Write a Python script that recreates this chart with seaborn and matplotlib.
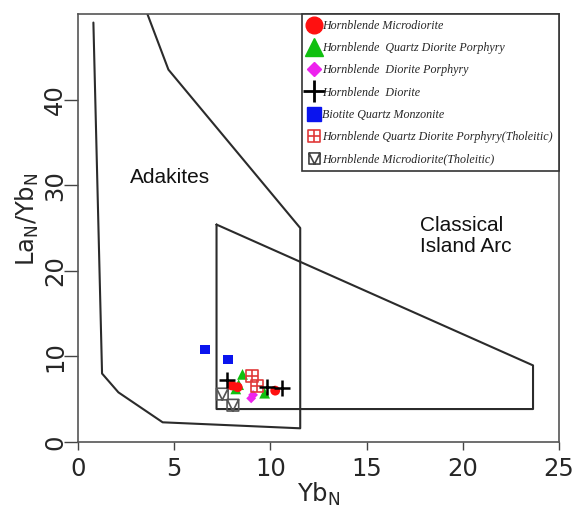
import matplotlib
matplotlib.use("Agg")
import matplotlib.pyplot as plt
from matplotlib.path import Path
from matplotlib.lines import Line2D
import seaborn as sns
import pandas as pd

# ---------------- data ----------------
adakite_x = [0.8, 1.25, 2.1, 4.4, 11.55, 11.55, 4.7, 3.27]
adakite_y = [49.0, 8.0, 5.8, 2.3, 1.6, 25.0, 43.5, 52.0]

arc_x = [7.2, 23.65, 23.65, 7.2, 7.2]
arc_y = [25.4, 8.95, 3.85, 3.85, 25.4]

hm_x = [8.0, 8.3, 10.25]
hm_y = [6.6, 6.4, 6.0]
hqdp_x = [8.55, 8.35, 9.7, 8.2]
hqdp_y = [7.9, 6.7, 5.7, 6.2]
hdp_x = [9.0, 9.1]
hdp_y = [5.1, 5.5]
hd_x = [7.75, 9.8, 10.6]
hd_y = [7.2, 6.4, 6.3]
bqm_x = [6.6, 7.8]
bqm_y = [10.8, 9.6]
hqdpt_x = [9.05, 9.3]
hqdpt_y = [7.7, 6.55]
hmt_x = [7.5, 8.05]
hmt_y = [5.6, 4.3]

labels = [
    "Hornblende Microdiorite",
    "Hornblende  Quartz Diorite Porphyry",
    "Hornblende  Diorite Porphyry",
    "Hornblende  Diorite",
    "Biotite Quartz Monzonite",
    "Hornblende Quartz Diorite Porphyry(Tholeitic)",
    "Hornblende Microdiorite(Tholeitic)",
]
x_ticks = [0, 5, 10, 15, 20, 25]
y_ticks = [0, 10, 20, 30, 40]

# ---------------- markers ----------------
M, L, C = Path.MOVETO, Path.LINETO, Path.CLOSEPOLY
sq_plus = Path([(-1, -1), (1, -1), (1, 1), (-1, 1), (-1, -1),
                (-1, 0), (1, 0), (0, -1), (0, 1)],
               [M, L, L, L, C, M, L, M, L])
sq_v = Path([(-1, -1), (1, -1), (1, 1), (-1, 1), (-1, -1),
             (-1, 1), (0, -1), (1, 1)],
            [M, L, L, L, C, M, L, L])

# ---------------- figure ----------------
sns.set_theme(style="white")
plt.rcParams["font.family"] = ["DejaVu Sans"]
plt.rcParams["mathtext.default"] = "regular"

fig = plt.figure(figsize=(5.73, 5.08), dpi=100)
ax = fig.add_axes([78 / 573, 66 / 508, 481 / 573, 428 / 508])

line_col = "#2b2b2b"
sns.lineplot(x=adakite_x, y=adakite_y, sort=False, estimator=None,
             color=line_col, lw=1.5, ax=ax)
sns.lineplot(x=arc_x, y=arc_y, sort=False, estimator=None,
             color=line_col, lw=1.5, ax=ax)

sns.scatterplot(x=hqdp_x, y=hqdp_y, marker="^", color="#10c010", s=60,
                edgecolor="none", ax=ax, zorder=3)
sns.scatterplot(x=hm_x, y=hm_y, marker="o", color="#ff1010", s=50,
                edgecolor="none", ax=ax, zorder=4)
sns.scatterplot(x=hdp_x, y=hdp_y, marker="D", color="#ee22ee", s=25,
                edgecolor="none", ax=ax, zorder=3)
sns.scatterplot(x=bqm_x, y=bqm_y, marker="s", color="#0a14ee", s=45,
                edgecolor="none", ax=ax, zorder=3)
sns.scatterplot(x=hqdpt_x, y=hqdpt_y, marker=sq_plus, facecolor="none",
                edgecolor="#e03a3a", linewidth=1.2, s=70, ax=ax, zorder=3)
sns.scatterplot(x=hmt_x, y=hmt_y, marker=sq_v, facecolor="none",
                edgecolor="#555555", linewidth=1.2, s=70, ax=ax, zorder=3)
sns.scatterplot(x=hd_x, y=hd_y, marker="+", color="black", s=140,
                linewidth=1.8, ax=ax, zorder=5)

ax.set_xlim(0, 25)
ax.set_ylim(0, 50)
ax.set_xticks(x_ticks)
ax.set_yticks(y_ticks)
ax.tick_params(axis="x", labelsize=17.5, length=6, width=1, pad=5,
               direction="out", bottom=True, color="#444444")
ax.tick_params(axis="y", labelsize=17.5, length=10, width=1, pad=-2,
               direction="out", left=True, color="#444444")
for t in ax.get_yticklabels():
    t.set_rotation(90)
    t.set_va("center")
for s in ax.spines.values():
    s.set_color("#555555")
    s.set_linewidth(1.2)

ax.set_xlabel("Yb$_{N}$", fontsize=17.5, labelpad=0)
ax.set_ylabel("La$_{N}$/Yb$_{N}$", fontsize=17.5)
ax.yaxis.set_label_coords(-0.077, 0.52)

ax.text(2.7, 30.85, "Adakites", fontsize=15, family="Liberation Sans",
        ha="left", va="center", color="#111111")
ax.text(17.78, 24.1, "Classical\nIsland Arc", fontsize=15,
        family="Liberation Sans", ha="left", va="center",
        linespacing=1.15, color="#111111")

handles = [
    Line2D([], [], ls="none", marker="o", color="#ff1010", markersize=12),
    Line2D([], [], ls="none", marker="^", color="#10c010", markersize=13),
    Line2D([], [], ls="none", marker="D", color="#ee22ee", markersize=7),
    Line2D([], [], ls="none", marker="+", color="black", markersize=16,
           markeredgewidth=2),
    Line2D([], [], ls="none", marker="s", color="#0a14ee", markersize=10),
    Line2D([], [], ls="none", marker=sq_plus, markerfacecolor="none",
           markeredgecolor="#e03a3a", markeredgewidth=1.2, markersize=8),
    Line2D([], [], ls="none", marker=sq_v, markerfacecolor="none",
           markeredgecolor="#444444", markeredgewidth=1.2, markersize=8),
]
leg = ax.legend(handles, labels, loc="upper right", bbox_to_anchor=(1, 1),
                borderaxespad=0, frameon=True, fancybox=False,
                prop={"family": "Liberation Serif", "style": "italic",
                      "size": 8.65},
                handlelength=1.0, handletextpad=0.2, labelspacing=0.85,
                borderpad=0.5)
leg.get_frame().set_edgecolor("#333333")
leg.get_frame().set_linewidth(1.2)
leg.get_frame().set_alpha(1)

fig.savefig("out.png", dpi=100)
